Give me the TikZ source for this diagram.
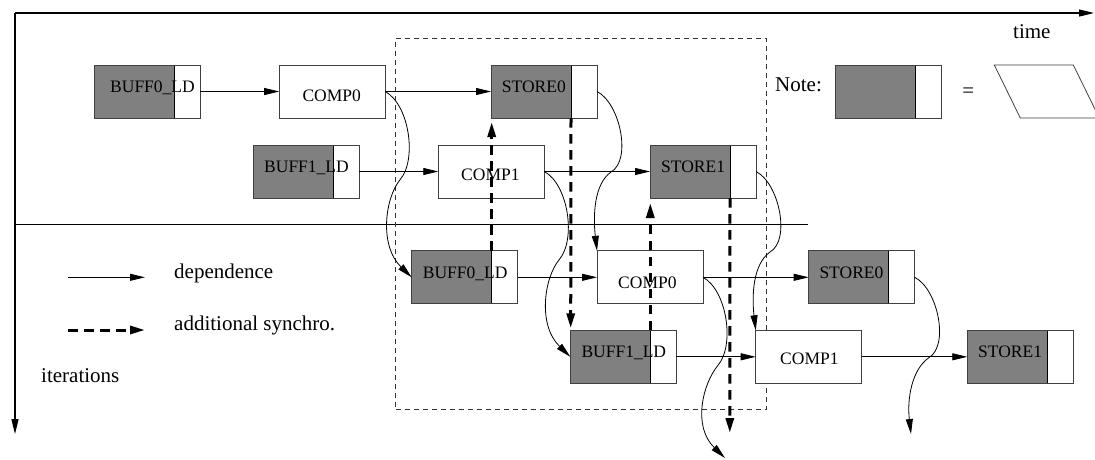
\documentclass[tikz,border=0pt]{standalone}
\usepackage{fontspec}
\setmainfont{Liberation Serif}
\usetikzlibrary{arrows.meta,calc}
\tikzset{
  ldbox/.style={draw=black!75, line width=0.8pt, fill=white, minimum width=106pt, minimum height=53pt,
    inner sep=0pt, outer sep=0pt,
    path picture={\fill[gray] (path picture bounding box.north west) rectangle ([xshift=-26pt]path picture bounding box.south east);
      \draw[black, line width=0.8pt] ([xshift=-26pt]path picture bounding box.north east) -- ([xshift=-26pt]path picture bounding box.south east);}},
  compbox/.style={draw=black!75, line width=0.8pt, fill=white, minimum width=106pt, minimum height=53pt, inner sep=0pt, outer sep=0pt},
  lbl/.style={font=\fontsize{17.5}{20}\selectfont, inner sep=0pt, anchor=base west},
  legtxt/.style={font=\fontsize{21}{24}\selectfont, inner sep=0pt, anchor=base west},
  dep/.style={line width=0.8pt, -{Triangle[length=15pt,width=7pt]}},
  sync/.style={line width=3pt, dash pattern=on 9.5pt off 6.5pt, -{Triangle[length=15pt,width=8pt]}},
  axis/.style={line width=1.2pt, -{Triangle[length=15pt,width=7pt]}},
  window/.style={draw=black!80, line width=0.8pt, dash pattern=on 5pt off 4pt, minimum width=371pt, minimum height=370.6pt, inner sep=0pt}
}
\newcommand{\sconnA}[2]{\draw[dep] (#1) .. controls ($(#1)+(24,13)$) and ($(#1)+(32,68)$) .. ($(#1)+(15,88)$) .. controls ($(#1)+(0,106)$) and ($(#2)+(-33,-32)$) .. (#2);}
\newcommand{\sconnB}[2]{\draw[dep] (#1) .. controls ($(#1)+(23,11.5)$) and ($(#1)+(35,68.5)$) .. ($(#1)+(14,80.5)$) .. controls ($(#1)+(-3,92.5)$) and ($(#2)+(-4,-35)$) .. (#2);}
\begin{document}
\begin{tikzpicture}[x=1pt,y=-1pt]
\useasboundingbox (0,0) rectangle (1095,459);
% axes
\coordinate (O) at (15,13);
\coordinate (tEnd) at (1094,13);
\coordinate (iEnd) at (15,434);
\draw[axis] (O) -- (tEnd);
\draw[axis] (O) -- (iEnd);
\node[legtxt] (timelbl) at (1013,38.3) {time};
\node[legtxt] (iterlbl) at (41,382.7) {iterations};
% separator
\coordinate (sepA) at (15,224.3);
\coordinate (sepB) at (808,224.3);
\draw[line width=0.8pt] (sepA) -- (sepB);
% window
\node[window] (win) at (581.2,224) {};
% top row
\node[ldbox] (b0t) at (147,91.5) {};
\node[compbox] (c0t) at (332.2,91.5) {};
\node[ldbox] (s0t) at (544,91.5) {};
\node[ldbox] (b1t) at (306,171.5) {};
\node[compbox] (c1t) at (491.3,171.5) {};
\node[ldbox] (s1t) at (703,171.5) {};
% bottom rows
\node[ldbox] (b0b) at (464.7,277.3) {};
\node[compbox] (c0b) at (650,277.3) {};
\node[ldbox] (s0b) at (861.7,277.3) {};
\node[ldbox] (b1b) at (623.3,356.8) {};
\node[compbox] (c1b) at (808.7,356.8) {};
\node[ldbox] (s1b) at (1020.3,356.8) {};
% labels
\node[lbl] (b0tl) at (110,92.7) {BUFF0\_LD};
\node[lbl] (c0tl) at (302.3,101.7) {COMP0};
\node[lbl] (s0tl) at (501.7,92.7) {STORE0};
\node[lbl] (b1tl) at (264,172) {BUFF1\_LD};
\node[lbl] (c1tl) at (461,180) {COMP1};
\node[lbl] (s1tl) at (661,172) {STORE1};
\node[lbl] (b0bl) at (422.7,278.3) {BUFF0\_LD};
\node[lbl] (c0bl) at (618,288.3) {COMP0};
\node[lbl] (s0bl) at (819.3,278.3) {STORE0};
\node[lbl] (b1bl) at (581.3,357.3) {BUFF1\_LD};
\node[lbl] (c1bl) at (780,364) {COMP1};
\node[lbl] (s1bl) at (978,357.3) {STORE1};
% straight dependences
\draw[dep] (b0t.east) -- (c0t.west);
\draw[dep] (c0t.east) -- (s0t.west);
\draw[dep] (b1t.east) -- (c1t.west);
\draw[dep] (c1t.east) -- (s1t.west);
\draw[dep] (b0b.east) -- (c0b.west);
\draw[dep] (c0b.east) -- (s0b.west);
\draw[dep] (b1b.east) -- (c1b.west);
\draw[dep] (c1b.east) -- (s1b.west);
% curved dependences
\coordinate (e13) at (725,458);
\coordinate (e14) at (911,434);
\sconnA{c0t.east}{b0b.west}
\sconnA{c1t.east}{b1b.west}
\sconnA{c0b.east}{e13}
\sconnB{s0t.east}{c0b.north west}
\sconnB{s1t.east}{c1b.north west}
\sconnB{s0b.east}{e14}
% additional synchro
\coordinate (ed) at (729.8,433);
\draw[sync] ($(b0b.north west)+(80,0)$) -- ($(s0t.south west)+(0.7,4)$);
\draw[sync] ($(s0t.south east)+(-26,0)$) -- ($(b1b.north west)+(0.4,-2)$);
\draw[sync] ($(b1b.north east)+(-26,0)$) -- ($(s1t.south west)+(0.3,5)$);
\draw[sync] ($(s1t.south east)+(-26,0)$) -- (ed);
% legend
\coordinate (l1a) at (68,277.3);
\coordinate (l1b) at (145,277.3);
\coordinate (l2a) at (68,330);
\coordinate (l2b) at (145,330);
\draw[dep] (l1a) -- (l1b);
\draw[sync] (l2a) -- (l2b);
\node[legtxt] (deplbl) at (174,278.3) {dependence};
\node[legtxt] (synlbl) at (174,330) {additional synchro.};
% note
\node[legtxt] (notelbl) at (775,91.7) {Note:};
\node[ldbox] (note) at (888.3,91.5) {};
\node[font=\fontsize{21}{24}\selectfont, inner sep=0pt] (eq) at (968.3,93) {=};
\draw[draw=black!75, line width=0.8pt] (994.3,65) -- (1073.3,65) -- (1099.3,118) -- (1020.3,118) -- cycle;
\end{tikzpicture}
\end{document}
